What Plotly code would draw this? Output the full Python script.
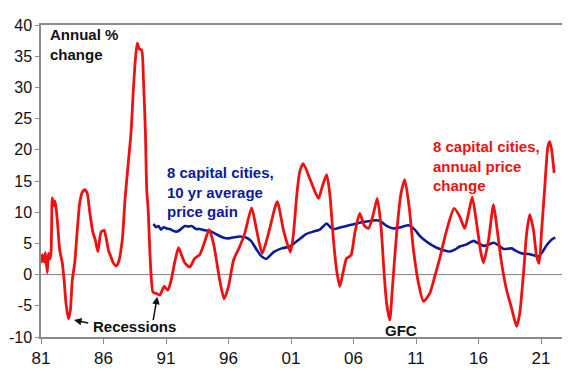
import plotly.graph_objects as go

# 8 capital cities, annual price change (%)
red_years = [1981.0, 1981.1, 1981.25, 1981.35, 1981.5, 1981.6, 1981.7, 1981.8, 1981.9, 1982.0,
             1982.1, 1982.2, 1982.35, 1982.5, 1982.7, 1982.85, 1983.0, 1983.2, 1983.35, 1983.5,
             1983.7, 1983.9, 1984.1, 1984.3, 1984.5, 1984.7, 1984.9, 1985.15, 1985.35, 1985.55,
             1985.8, 1986.05, 1986.2, 1986.4, 1986.55, 1986.75, 1987.0, 1987.2, 1987.5, 1987.72,
             1987.95, 1988.2, 1988.4, 1988.55, 1988.7, 1988.85, 1989.05, 1989.2, 1989.35, 1989.46,
             1989.56, 1989.77, 1989.96, 1990.2, 1990.5, 1990.85, 1991.15, 1991.4, 1991.7, 1992.0,
             1992.25, 1992.5, 1992.9, 1993.3, 1993.7, 1994.1, 1994.45, 1994.8, 1995.3, 1995.65,
             1996.0, 1996.4, 1996.9, 1997.3, 1997.85, 1998.25, 1998.7, 1999.2, 1999.9, 2000.4,
             2000.95, 2001.2, 2001.45, 2001.7, 2001.98, 2002.5, 2003.2, 2003.5, 2003.85, 2004.1,
             2004.4, 2004.65, 2004.9, 2005.2, 2005.45, 2005.8, 2006.1, 2006.5, 2006.85, 2007.2,
             2007.6, 2007.9, 2008.2, 2008.45, 2008.65, 2008.9, 2009.1, 2009.45, 2009.8, 2010.1,
             2010.45, 2010.8, 2011.2, 2011.6, 2012.1, 2012.5, 2012.9, 2013.45, 2014.05, 2014.5,
             2014.9, 2015.2, 2015.5, 2015.85, 2016.2, 2016.4, 2016.8, 2017.2, 2017.5, 2017.85,
             2018.25, 2018.65, 2019.05, 2019.3, 2019.6, 2019.85, 2020.1, 2020.4, 2020.65, 2020.85,
             2021.05, 2021.3, 2021.55, 2021.7, 2021.85, 2022.05]
red_values = [1.9, 3.2, 2.0, 3.5, 0.3, 3.4, 2.5, 3.4, 12.3, 11.0,
              11.8, 10.8, 7.6, 3.9, 1.9, -0.9, -4.6, -7.1, -5.7, -0.9,
              1.9, 7.1, 11.5, 13.2, 13.6, 13.0, 10.0, 6.8, 5.5, 3.7,
              6.8, 7.1, 6.0, 3.9, 3.1, 2.0, 1.4, 2.0, 5.5, 12.0,
              17.2, 22.7, 30.0, 34.5, 37.1, 36.2, 36.0, 31.0, 23.0, 13.5,
              10.9, 1.2, -2.8, -3.0, -3.3, -1.9, -2.5, -1.0, 2.0, 4.3,
              3.1, 1.9, 1.2, 2.6, 3.2, 5.3, 7.2, 5.0, -0.9, -3.9,
              -1.9, 2.3, 4.5, 6.6, 10.7, 7.1, 3.4, 6.6, 11.7, 7.1,
              3.6, 6.6, 12.5, 16.5, 17.8, 15.4, 12.2, 14.1, 16.0, 13.0,
              5.5, 0.7, -1.9, 0.7, 2.6, 3.1, 6.6, 9.8, 7.9, 7.4,
              9.8, 12.2, 7.7, 0.2, -4.6, -7.3, -2.5, 6.6, 13.0, 15.2,
              10.9, 3.9, -1.4, -4.3, -3.0, -0.3, 2.6, 7.1, 10.6, 9.3,
              7.4, 9.8, 12.4, 8.2, 3.4, 1.9, 5.5, 11.2, 7.1, 1.8,
              -2.5, -5.4, -8.3, -6.2, 0.2, 6.6, 9.6, 7.1, 2.9, 1.8,
              7.1, 14.0, 20.5, 21.3, 20.0, 16.3]

# 8 capital cities, 10 yr average price gain (%)
blue_years = [1990.0, 1990.2, 1990.4, 1990.6, 1990.8, 1991.05, 1991.3, 1991.6, 1991.9, 1992.2,
              1992.5, 1992.8, 1993.05, 1993.4, 1993.7, 1994.1, 1994.5, 1995.0, 1995.5, 1996.0,
              1996.5, 1996.9, 1997.45, 1997.8, 1998.25, 1998.6, 1999.0, 1999.3, 1999.6, 2000.25,
              2000.9, 2001.3, 2001.7, 2002.2, 2002.8, 2003.3, 2003.85, 2004.2, 2004.5, 2005.0,
              2005.45, 2006.25, 2007.05, 2007.85, 2008.2, 2008.65, 2009.2, 2009.8, 2010.4, 2010.9,
              2011.3, 2011.7, 2012.2, 2012.65, 2013.2, 2013.7, 2014.1, 2014.5, 2015.0, 2015.6,
              2016.0, 2016.4, 2016.8, 2017.2, 2017.6, 2018.0, 2018.65, 2019.0, 2019.45, 2020.0,
              2020.4, 2020.8, 2021.1, 2021.45, 2021.75, 2022.0, 2022.15]
blue_values = [8.1, 7.6, 7.8, 7.2, 7.6, 7.4, 7.3, 7.0, 6.9, 7.3,
               7.8, 7.7, 7.8, 7.3, 7.3, 7.1, 7.0, 6.5, 6.0, 5.8,
               6.0, 6.1, 5.9, 5.4, 4.0, 3.0, 2.5, 3.0, 3.6, 4.2,
               4.5, 5.1, 5.7, 6.5, 6.9, 7.2, 8.2, 7.5, 7.3, 7.6,
               7.8, 8.2, 8.5, 8.7, 8.5, 7.8, 7.4, 7.6, 7.9, 7.2,
               6.2, 5.5, 4.8, 4.3, 3.9, 3.7, 4.0, 4.5, 4.8, 5.4,
               5.0, 4.6, 4.8, 5.1, 4.7, 4.1, 4.2, 3.8, 3.4, 3.3,
               3.1, 2.9, 3.6, 4.7, 5.4, 5.8, 5.9]

x_tick_years = [1981, 1986, 1991, 1996, 2001, 2006, 2011, 2016, 2021]
x_tick_labels = ["81", "86", "91", "96", "01", "06", "11", "16", "21"]
y_ticks = [-10, -5, 0, 5, 10, 15, 20, 25, 30, 35, 40]
y_tick_labels = ["-10", "-5", "0", "5", "10", "15", "20", "25", "30", "35", "40"]

RED = "#ee1111"
BLUE = "#0c1a9c"
AXIS = "#8a8a8a"
FONT = "Liberation Sans, Arial, sans-serif"

fig = go.Figure()
fig.add_trace(go.Scatter(x=blue_years, y=blue_values, mode="lines",
                         line=dict(color=BLUE, width=2.6, shape="spline", smoothing=0.5),
                         showlegend=False, hoverinfo="skip", cliponaxis=False))
fig.add_trace(go.Scatter(x=red_years, y=red_values, mode="lines",
                         line=dict(color=RED, width=2.8, shape="spline", smoothing=0.6),
                         showlegend=False, hoverinfo="skip", cliponaxis=False))

# zero line
fig.add_hline(y=0, line=dict(color="#808080", width=1), layer="below")

annotations = [
    dict(text="<b>Annual %<br>change</b>", xref="paper", yref="paper", x=0.0134, y=0.9385,
         xanchor="left", yanchor="middle", align="left", showarrow=False,
         font=dict(family=FONT, size=15, color="#111111")),
    dict(text="<b>8 capital cities,<br>10 yr average<br>price gain</b>", xref="paper", yref="paper",
         x=0.2375, y=0.4647, xanchor="left", yanchor="middle", align="left", showarrow=False,
         font=dict(family=FONT, size=15, color=BLUE)),
    dict(text="<b>8 capital cities,<br>annual price<br>change</b>", xref="paper", yref="paper",
         x=0.747, y=0.548, xanchor="left", yanchor="middle", align="left", showarrow=False,
         font=dict(family=FONT, size=15, color=RED)),
    dict(text="<b>Recessions</b>", xref="paper", yref="paper", x=0.0952, y=0.033,
         xanchor="left", yanchor="middle", showarrow=False,
         font=dict(family=FONT, size=15, color="#111111")),
    dict(text="<b>GFC</b>", xref="paper", yref="paper", x=0.6546, y=0.0202,
         xanchor="left", yanchor="middle", showarrow=False,
         font=dict(family=FONT, size=15, color="#111111")),
    dict(text="", x=1983.64, y=-7.28, xref="x", yref="y", ax=15.7, ay=3.3,
         showarrow=True, arrowhead=2, arrowsize=1, arrowwidth=1.5, arrowcolor="#111111"),
    dict(text="", x=1990.3, y=-3.54, xref="x", yref="y", ax=-4.3, ay=25,
         showarrow=True, arrowhead=2, arrowsize=1, arrowwidth=1.5, arrowcolor="#111111"),
]

# The page body has an 8px margin, so the figure is 8px smaller and its left/top margins 8px less.
fig.update_layout(
    width=562, height=363,
    margin=dict(l=33, r=7, t=17, b=34, autoexpand=False),
    paper_bgcolor="white", plot_bgcolor="white",
    font=dict(family=FONT, size=16, color="#111111"),
    annotations=annotations,
    xaxis=dict(range=[1981, 2022.76], tickmode="array", tickvals=x_tick_years, ticktext=x_tick_labels,
               showgrid=False, zeroline=False, showline=True, linecolor=AXIS, linewidth=1.5,
               mirror=True, ticks="outside", ticklen=5, tickcolor=AXIS, automargin=False,
               tickfont=dict(family=FONT, size=17, color="#111111")),
    yaxis=dict(range=[-10, 40], tickmode="array", tickvals=y_ticks, ticktext=y_tick_labels,
               showgrid=False, zeroline=False, showline=True, linecolor=AXIS, linewidth=1.5,
               mirror=True, ticks="outside", ticklen=4, tickcolor=AXIS, ticklabelstandoff=0,
               automargin=False,
               tickfont=dict(family=FONT, size=16, color="#111111")),
)

fig.write_html("out.html")
